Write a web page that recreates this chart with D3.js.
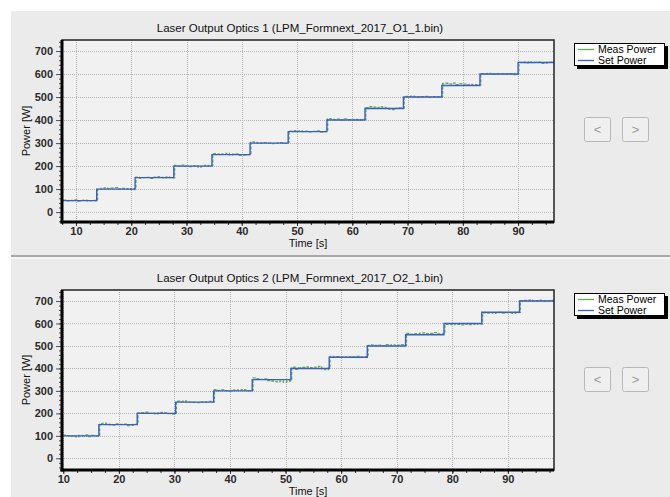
<!DOCTYPE html>
<html>
<head>
<meta charset="utf-8">
<script src="https://cdn.jsdelivr.net/npm/d3@7"></script>
<style>
body { margin: 0; background: #fff; }
text { font-family: "Liberation Sans", Arial, sans-serif; }
</style>
</head>
<body>
<script>
// ---------------------------------- DATA ----------------------------------
var titles = ["Laser Output Optics 1 (LPM_Formnext_2017_O1_1.bin)",
              "Laser Output Optics 2 (LPM_Formnext_2017_O2_1.bin)"]
var legendNames = ["Meas Power", "Set Power"]
var xTickValues = [10, 20, 30, 40, 50, 60, 70, 80, 90]
var yTickValues = [0, 100, 200, 300, 400, 500, 600, 700]

// step start times [s] and set power levels [W]
var stepTimes1 = [7.5, 13.75, 20.7, 27.7, 34.6, 41.5, 48.4, 55.4, 62.3, 69.25, 76.2, 83.1, 90.0]
var stepLevels1 = [50, 100, 150, 200, 250, 300, 350, 400, 450, 500, 550, 600, 650]
var stepTimes2 = [9.8, 16.4, 23.3, 30.2, 37.05, 44.0, 50.95, 57.85, 64.7, 71.6, 78.5, 85.3, 92.1]
var stepLevels2 = [100, 150, 200, 250, 300, 350, 400, 450, 500, 550, 600, 650, 700]
var endTime1 = 96.5
var endTime2 = 98.3

// measured power deviation from set power, sampled along each step [W]
var measDev1 = [
  [2, -1, 1, 0, 3, -2, 1, 2, -1, 0, 1, -1],
  [-1, 3, 5, 2, 4, 6, 1, 3, 0, 2, -2, 1],
  [2, -2, 0, 1, -3, 2, 4, 1, -1, 3, 0, -1],
  [3, 1, 4, 0, -2, 1, 2, -4, -1, 3, 1, 2],
  [4, 2, 3, 1, 5, -1, 2, 3, -3, -2, 0, 1],
  [5, 3, -1, 1, 2, 0, -2, -1, 1, 2, -1, 3],
  [2, 4, 1, 3, 0, 2, -1, 1, 3, -2, 0, 2],
  [6, 3, 2, 4, 1, 5, 2, 0, 3, 1, 2, 3],
  [4, 8, 6, 3, 7, 5, 2, -3, -4, 1, 3, 2],
  [3, 2, 4, 1, 0, 2, 3, -1, 1, 2, 0, 1],
  [9, 10, 7, 11, 4, 8, 6, 3, 5, 2, 4, 3],
  [2, 1, 3, 0, -1, 2, 1, 0, 2, 1, -2, 1],
  [1, 2, -1, 3, 0, 1, 2, -3, -2, 1, 2, 0]
]
var measDev2 = [
  [3, 1, -2, 0, -4, 2, 1, 4, -3, 2, -1, 3],
  [4, 6, 2, 0, -2, 3, 1, 2, -4, -3, 1, 2],
  [2, 3, 5, 0, 1, -2, 3, 4, 2, -1, -3, 1],
  [4, 2, 5, 1, 0, -1, -2, 1, -1, 2, 3, 1],
  [6, 2, 4, 1, -1, 3, 5, 2, 6, 4, 1, 2],
  [8, 4, 1, 3, -4, -6, -8, -10, -5, -12, -7, -3],
  [6, -4, 2, 5, 7, 4, 3, 6, 9, -2, -5, 2],
  [3, 1, 2, 0, 1, -1, 2, 1, 3, 0, 1, 2],
  [3, 5, 2, 4, 1, 6, 3, 5, 2, 4, 6, 3],
  [6, 3, 5, 4, 7, 8, 5, 6, 9, 4, 3, 5],
  [-4, -3, -5, -2, -4, -6, -3, -5, -2, -4, -1, -3],
  [-3, -4, -2, -5, -3, -1, -4, -2, -3, -5, -2, -1],
  [1, 3, 2, 5, 1, 2, 4, 2, 0, 1, 3, 2]
]

// ---------------------------------- SVG ----------------------------------
var width = 670
var height = 497

var svg = d3.select('body')
  .append('svg')
  .attr('width', width)
  .attr('height', height)

svg.append('rect')
  .attr('width', width)
  .attr('height', height)
  .attr('fill', '#ffffff')

// panel backgrounds
svg.append('rect').attr('x', 11).attr('y', 11).attr('width', 659).attr('height', 244).attr('fill', '#ebebeb')
svg.append('rect').attr('x', 11).attr('y', 255).attr('width', 659).attr('height', 2).attr('fill', '#a8a8a8')
svg.append('rect').attr('x', 11).attr('y', 257).attr('width', 659).attr('height', 2).attr('fill', '#f6f6f6')
svg.append('rect').attr('x', 11).attr('y', 259).attr('width', 659).attr('height', 238).attr('fill', '#ebebeb')

var blue = '#3c5fc4'
var green = '#62ad4f'

function buildSet(times, levels, endT) {
  var pts = times.map(function(t, i) { return {t: t, v: levels[i]} })
  pts.push({t: endT, v: levels[levels.length - 1]})
  return pts
}

function buildMeas(times, levels, devs, endT) {
  var pts = []
  times.forEach(function(t0, i) {
    var t1 = i < times.length - 1 ? times[i + 1] : endT
    var d = devs[i]
    d.forEach(function(dv, j) {
      pts.push({t: t0 + 0.15 + (t1 - t0 - 0.3) * j / (d.length - 1), v: levels[i] + dv})
    })
  })
  return pts
}

function drawPanel(cfg) {
  var g = svg.append('g')
  var x = d3.scaleLinear().domain(cfg.xDomain).range([cfg.left, cfg.right])
  var y = d3.scaleLinear().domain(cfg.yDomain).range([cfg.bottom, cfg.top])

  // title
  g.append('text')
    .attr('x', 300).attr('y', cfg.top - 8)
    .attr('text-anchor', 'middle')
    .attr('font-size', 11.5)
    .attr('fill', '#111')
    .text(cfg.title)

  // plot area
  g.append('rect')
    .attr('x', cfg.left).attr('y', cfg.top)
    .attr('width', cfg.right - cfg.left).attr('height', cfg.bottom - cfg.top)
    .attr('fill', '#f1f1f1')

  // grid
  var grid = g.append('g').attr('stroke', '#b4b4b4').attr('stroke-width', 1).attr('stroke-dasharray', '1,1')
  xTickValues.forEach(function(v) {
    grid.append('line').attr('x1', Math.round(x(v)) + 0.5).attr('x2', Math.round(x(v)) + 0.5)
      .attr('y1', cfg.top).attr('y2', cfg.bottom)
  })
  yTickValues.forEach(function(v) {
    grid.append('line').attr('y1', Math.round(y(v)) + 0.5).attr('y2', Math.round(y(v)) + 0.5)
      .attr('x1', cfg.left).attr('x2', cfg.right)
  })

  // axes
  var xMinor = d3.range(Math.ceil(cfg.xDomain[0] / 2.5) * 2.5, cfg.xDomain[1], 2.5)
  var xAxisMinor = d3.axisBottom(x).tickValues(xMinor).tickSize(3).tickFormat('')
  var xAxis = d3.axisBottom(x).tickValues(xTickValues).tickSize(4).tickPadding(1).tickFormat(d3.format('d'))
  var yMinor = d3.range(-40, 741, 20)
  var yAxisMinor = d3.axisLeft(y).tickValues(yMinor).tickSize(3).tickFormat('')
  var yAxis = d3.axisLeft(y).tickValues(yTickValues).tickSize(6).tickPadding(3).tickFormat(d3.format('d'))

  ;[xAxisMinor, xAxis].forEach(function(ax) {
    var a = g.append('g').attr('transform', 'translate(0,' + cfg.bottom + ')').call(ax)
    a.select('.domain').remove()
    a.selectAll('line').attr('stroke', '#333')
    a.selectAll('text').attr('font-size', 11).attr('font-weight', 'bold').attr('fill', '#2a2a2a')
      .attr('font-family', '"Liberation Sans", Arial, sans-serif')
  })
  ;[yAxisMinor, yAxis].forEach(function(ax) {
    var a = g.append('g').attr('transform', 'translate(' + cfg.left + ',0)').call(ax)
    a.select('.domain').remove()
    a.selectAll('line').attr('stroke', '#555')
    a.selectAll('text').attr('font-size', 11).attr('font-weight', 'bold').attr('fill', '#2a2a2a')
      .attr('font-family', '"Liberation Sans", Arial, sans-serif')
  })

  // data lines
  var clipId = 'clip' + cfg.id
  svg.append('clipPath').attr('id', clipId).append('rect')
    .attr('x', cfg.left).attr('y', cfg.top).attr('width', cfg.right - cfg.left).attr('height', cfg.bottom - cfg.top)

  var stepLine = d3.line().curve(d3.curveStepAfter).x(function(d) { return x(d.t) }).y(function(d) { return y(d.v) })

  var meas = buildMeas(cfg.times, cfg.levels, cfg.devs, cfg.xDomain[1])
  var set = buildSet(cfg.times, cfg.levels, cfg.xDomain[1])

  var lines = g.append('g').attr('clip-path', 'url(#' + clipId + ')')
  lines.append('path').datum(meas)
    .attr('d', stepLine).attr('fill', 'none').attr('stroke', green).attr('stroke-width', 1.3).attr('stroke-dasharray', '3,1.5')
  lines.append('path').datum(set)
    .attr('d', stepLine).attr('fill', 'none').attr('stroke', blue).attr('stroke-width', 1.4)

  // frame
  g.append('rect')
    .attr('x', cfg.left).attr('y', cfg.top)
    .attr('width', cfg.right - cfg.left).attr('height', cfg.bottom - cfg.top)
    .attr('fill', 'none').attr('stroke', '#222').attr('stroke-width', 1.5)
  g.append('line').attr('x1', cfg.left).attr('x2', cfg.left).attr('y1', cfg.top).attr('y2', cfg.bottom + 1.5)
    .attr('stroke', '#000').attr('stroke-width', 3)
  g.append('line').attr('x1', cfg.left - 1.5).attr('x2', cfg.right).attr('y1', cfg.bottom).attr('y2', cfg.bottom)
    .attr('stroke', '#000').attr('stroke-width', 3)

  // axis titles
  g.append('text')
    .attr('transform', 'translate(30,' + ((cfg.top + cfg.bottom) / 2) + ') rotate(-90)')
    .attr('text-anchor', 'middle')
    .attr('font-size', 11)
    .attr('fill', '#111')
    .text('Power [W]')
  g.append('text')
    .attr('x', 308).attr('y', cfg.bottom + 25)
    .attr('text-anchor', 'middle')
    .attr('font-size', 11)
    .attr('fill', '#111')
    .text('Time [s]')

  // legend
  var lg = g.append('g').attr('transform', 'translate(574,' + (cfg.top + 3) + ')')
  lg.append('rect').attr('x', 3).attr('y', 3).attr('width', 91).attr('height', 23).attr('fill', '#000')
  lg.append('rect').attr('x', 0.5).attr('y', 0.5).attr('width', 90).attr('height', 22)
    .attr('fill', '#fff').attr('stroke', '#000').attr('stroke-width', 1)
  legendNames.forEach(function(name, i) {
    lg.append('line').attr('x1', 4).attr('x2', 20).attr('y1', 6.5 + i * 11).attr('y2', 6.5 + i * 11)
      .attr('stroke', i === 0 ? green : blue).attr('stroke-width', 1.3)
    lg.append('text').attr('x', 24).attr('y', 10 + i * 11)
      .attr('font-size', 10.5).attr('fill', '#000').text(name)
  })

  // nav buttons
  ;['<', '>'].forEach(function(s, i) {
    var bx = 584 + i * 38
    var by = cfg.top + 77
    g.append('rect').attr('x', bx + 0.5).attr('y', by + 0.5).attr('width', 26).attr('height', 24).attr('rx', 2)
      .attr('fill', '#efefef').attr('stroke', '#b8b8b8').attr('stroke-width', 1)
    g.append('text').attr('x', bx + 13.5).attr('y', by + 17).attr('text-anchor', 'middle')
      .attr('font-size', 13).attr('fill', '#999').text(s)
  })
}

drawPanel({id: 1, title: titles[0], left: 62, right: 554, top: 40, bottom: 222,
  xDomain: [7.47, endTime1], yDomain: [-43, 748],
  times: stepTimes1, levels: stepLevels1, devs: measDev1})
drawPanel({id: 2, title: titles[1], left: 62, right: 554, top: 290, bottom: 470,
  xDomain: [9.77, endTime2], yDomain: [-52, 749],
  times: stepTimes2, levels: stepLevels2, devs: measDev2})
</script>
</body>
</html>
